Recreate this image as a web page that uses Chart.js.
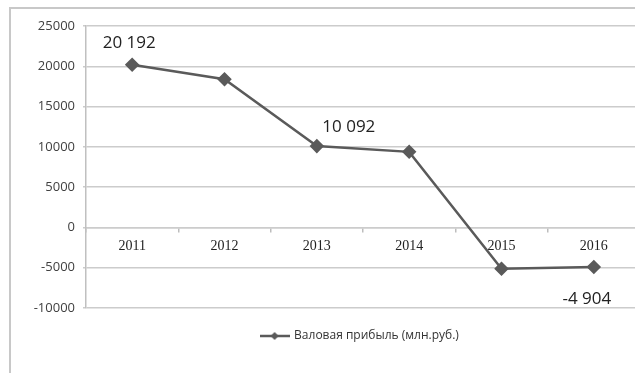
<!DOCTYPE html>
<html>
<head>
<meta charset="utf-8">
<script src="https://cdn.jsdelivr.net/npm/chart.js@4.4.1/dist/chart.umd.min.js"></script>
<style>
  html, body { margin: 0; padding: 0; background: #fff; overflow: hidden; width: 635px; height: 373px; }
  #frame { position: absolute; left: 9px; top: 7px; width: 720px; height: 420px; border-left: 2px solid #c8c8c8; border-top: 2px solid #c8c8c8; }
  #wrap { position: absolute; left: 0; top: 0; width: 720px; height: 400px; }
</style>
</head>
<body>
<div id="frame"></div>
<div id="wrap"><canvas id="c" width="720" height="400"></canvas></div>
<script>
// ---- data ----
const years = ['2011', '2012', '2013', '2014', '2015', '2016'];
const grossProfit = [20192, 18400, 10092, 9380, -5120, -4904];
const valueLabels = ['20 192', '', '10 092', '', '', '-4 904'];
const seriesName = 'Валовая прибыль (млн.руб.)';
const yMin = -10000, yMax = 25000, yStep = 5000;

const lineColor = '#5a5a5a';

// legend marker: line with diamond
const marker = document.createElement('canvas');
marker.width = 30; marker.height = 12;
(function () {
  const g = marker.getContext('2d');
  g.strokeStyle = lineColor; g.lineWidth = 2.5;
  g.beginPath(); g.moveTo(0, 6); g.lineTo(30, 6); g.stroke();
  g.fillStyle = lineColor;
  g.beginPath(); g.moveTo(15, 2); g.lineTo(19, 6); g.lineTo(15, 10); g.lineTo(11, 6); g.closePath(); g.fill();
})();

const valueLabelPlugin = {
  id: 'valueLabels',
  afterDatasetsDraw(chart, args, opts) {
    const meta = chart.getDatasetMeta(0);
    const ctx = chart.ctx;
    ctx.save();
    ctx.font = opts.font;
    ctx.fillStyle = opts.color;
    ctx.textAlign = 'center';
    ctx.textBaseline = 'middle';
    meta.data.forEach((pt, i) => {
      const t = valueLabels[i];
      if (!t) return;
      const off = opts.offsets[i];
      ctx.fillText(t, pt.x + off[0], pt.y + off[1]);
    });
    ctx.restore();
  }
};

new Chart(document.getElementById('c'), {
  type: 'line',
  data: {
    labels: years,
    datasets: [{
      label: seriesName,
      data: grossProfit,
      borderColor: lineColor,
      backgroundColor: lineColor,
      borderWidth: 2.5,
      pointStyle: 'rectRot',
      pointRadius: 5.5,
      pointHoverRadius: 5.5,
      pointBackgroundColor: lineColor,
      pointBorderColor: lineColor,
      tension: 0,
      yAxisID: 'y'
    }]
  },
  options: {
    responsive: false,
    animation: false,
    events: [],
    layout: { padding: { top: 26, left: 0, right: 0, bottom: 48 } },
    scales: {
      x: {
        type: 'category',
        position: { y: 0 },
        offset: true,
        grid: { display: true, drawOnChartArea: false, offset: true, tickLength: 4, color: '#bdbdbd', lineWidth: 1.5 },
        border: { display: true, color: '#cccccc', width: 1.5 },
        ticks: { font: { family: 'Liberation Serif', size: 14 }, color: '#222', padding: 6, maxRotation: 0 }
      },
      y: {
        position: 'left',
        min: yMin, max: yMax,
        ticks: { stepSize: yStep, font: { family: 'Open Sans', size: 13 }, color: '#404040', padding: 8, callback: v => String(v) },
        grid: { color: '#cccccc', lineWidth: 1.5, tickLength: 3 },
        border: { display: true, color: '#c0c0c0', width: 1.5 },
        afterFit(s) { s.width = 86; }
      },
      y2: {
        position: 'right',
        min: yMin, max: yMax,
        display: true,
        ticks: { display: false },
        grid: { display: false, drawTicks: false },
        border: { display: false },
        afterFit(s) { s.width = 80; }
      }
    },
    plugins: {
      legend: {
        position: 'bottom',
        labels: {
          usePointStyle: true,
          pointStyleWidth: 27,
          padding: 22,
          font: { family: 'Open Sans', size: 12 },
          color: '#333',
          generateLabels: (chart) => [{
            text: seriesName,
            pointStyle: marker,
            fillStyle: lineColor,
            strokeStyle: lineColor,
            lineWidth: 0,
            hidden: false,
            datasetIndex: 0,
            fontColor: '#333'
          }]
        }
      },
      tooltip: { enabled: false },
      valueLabels: {
        font: '17px "Open Sans"',
        color: '#222',
        offsets: [[-3, -22], [0, 0], [32, -19], [0, 0], [0, 0], [-7, 32]]
      }
    }
  },
  plugins: [valueLabelPlugin]
});
</script>
</body>
</html>
